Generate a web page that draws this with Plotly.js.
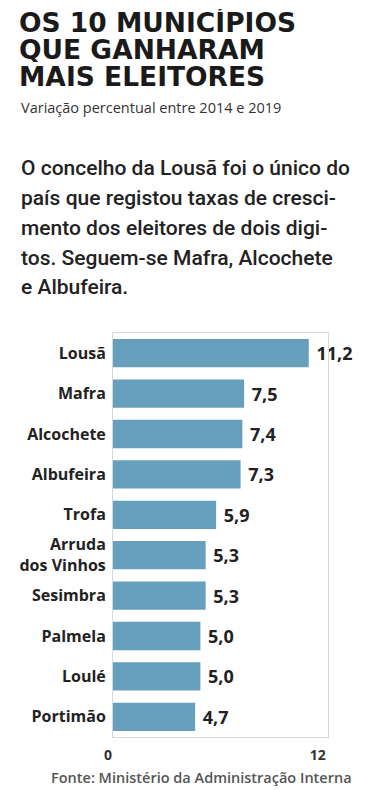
<!DOCTYPE html>
<html><head><meta charset="utf-8">
<script src="https://cdn.plot.ly/plotly-3.0.1.min.js"></script>
<style>html,body{margin:0;padding:0;background:#fff;}#chart{width:378px;height:790px;}</style>
</head><body><div id="chart"></div>
<script>
const categories = ["Lousã","Mafra","Alcochete","Albufeira","Trofa","Arruda<br>dos Vinhos","Sesimbra","Palmela","Loulé","Portimão"];
const values = [11.2,7.5,7.4,7.3,5.9,5.3,5.3,5.0,5.0,4.7];
const tickValues = [0,12];
const tickLabels = ["0","12"];
const titleLines = ["OS 10 MUNICÍPIOS","QUE GANHARAM","MAIS ELEITORES"];
const subtitle = "Variação percentual entre 2014 e 2019";
const paragraph = ["O concelho da Lousã foi o único do","país que registou taxas de cresci-","mento dos eleitores de dois digi-","tos. Seguem-se Mafra, Alcochete","e Albufeira."];
const source = "Fonte: Ministério da Administração Interna";

const W=378,H=790,L=113,R=328,T=333,B=737;
const px=x=>(x-L)/(R-L), py=y=>(B-y)/(B-T);
const ann=[];
const titleY=[22,49,76];
titleLines.forEach((t,i)=>ann.push({text:t,xref:'paper',yref:'paper',x:px(18),y:py(titleY[i]),xanchor:'left',yanchor:'middle',height:26,borderpad:0,showarrow:false,font:{family:'DejaVu Sans',size:26.5,color:'#1a1a1a',weight:900}}));
ann.push({text:subtitle,xref:'paper',yref:'paper',x:px(19),y:py(108),xanchor:'left',yanchor:'middle',showarrow:false,font:{family:'Open Sans',size:14.5,color:'#333'}});
const parY=[168,198,228,258,287];
paragraph.forEach((t,i)=>ann.push({text:t,xref:'paper',yref:'paper',x:px(19),y:py(parY[i]),xanchor:'left',yanchor:'middle',showarrow:false,font:{family:'Roboto',size:21,color:'#222',weight:500}}));
ann.push({text:source,xref:'paper',yref:'paper',x:px(49),y:py(777),xanchor:'left',yanchor:'middle',showarrow:false,font:{family:'Open Sans',size:14.5,color:'#555',weight:600}});

Plotly.newPlot('chart',[{
  type:'bar',orientation:'h',y:categories,x:values,
  marker:{color:'#66a0bc'},width:0.7,
  text:values,texttemplate:'\u00a0%{x:.1f}',textposition:'outside',cliponaxis:false,
  textfont:{family:'Open Sans',size:18,color:'#222',weight:700},
  hoverinfo:'none'
}],{
  width:W,height:H,separators:',.',
  margin:{l:L,r:W-R,t:T,b:H-B,pad:0},
  paper_bgcolor:'#fff',plot_bgcolor:'#fff',showlegend:false,
  xaxis:{range:[0,12.3],tickvals:tickValues,ticktext:tickLabels,showgrid:false,zeroline:false,
    showline:true,mirror:true,linecolor:'#d8d8d8',linewidth:1,ticks:'',ticklabelshift:-5,ticklabelstandoff:5,
    tickfont:{family:'Open Sans',size:14,color:'#333',weight:700},fixedrange:true},
  yaxis:{autorange:'reversed',showgrid:false,zeroline:false,showline:true,mirror:true,linecolor:'#d8d8d8',linewidth:1,ticks:'',ticklabelstandoff:3,
    tickfont:{family:'Open Sans',size:16,color:'#222',weight:700},fixedrange:true},
  annotations:ann
},{staticPlot:true});
</script></body></html>
